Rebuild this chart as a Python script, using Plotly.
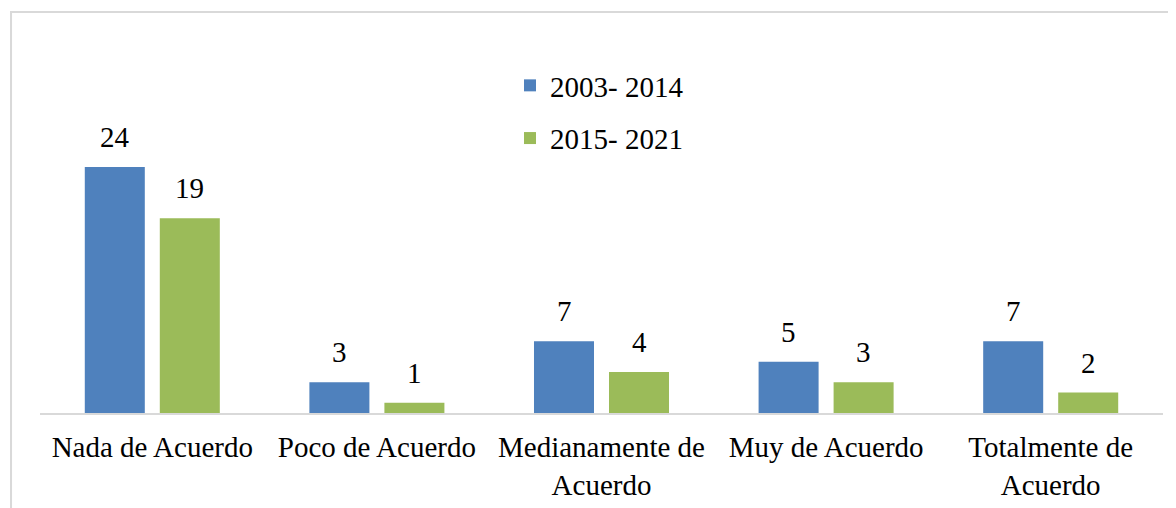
import plotly.graph_objects as go

categories = ["Nada de Acuerdo", "Poco de Acuerdo", "Medianamente de<br>Acuerdo",
              "Muy de Acuerdo", "Totalmente de<br>Acuerdo"]
series_names = ["2003- 2014", "2015- 2021"]
values_2003_2014 = [24, 3, 7, 5, 7]
values_2015_2021 = [19, 1, 4, 3, 2]
colors = ["#4F81BD", "#9BBB59"]

FONT = "Liberation Serif"

fig = go.Figure()
for name, vals, col in zip(series_names, [values_2003_2014, values_2015_2021], colors):
    fig.add_trace(go.Bar(x=categories, y=vals, name=name, marker_color=col,
                         marker_line_width=0, legendgroup=name))

# data labels
for vals, shift in [(values_2003_2014, -37.5), (values_2015_2021, 37.5)]:
    for c, v in zip(categories, vals):
        fig.add_annotation(x=c, y=v, text=str(v), showarrow=False, xshift=shift,
                           yanchor="bottom", yshift=12,
                           font=dict(family=FONT, size=29, color="#000000"))

# outer chart border (cropped at right/bottom)
fig.add_shape(type="rect", xref="paper", yref="paper",
              x0=-0.0258, x1=1.3, y0=-0.6, y1=1.136,
              line=dict(color="#D9D9D9", width=2), layer="below")

fig.update_layout(
    width=1168, height=500,
    margin=dict(l=32, r=13, t=52, b=95, autoexpand=False),
    paper_bgcolor="white", plot_bgcolor="white",
    barmode="group", bargap=0.332, bargroupgap=0.2,
    font=dict(family=FONT, size=29, color="#000000"),
    showlegend=True,
    legend=dict(x=0.4185, y=1.0, xanchor="left", yanchor="top",
                tracegroupgap=12, font=dict(family=FONT, size=29),
                bgcolor="rgba(0,0,0,0)"),
    xaxis=dict(showline=True, linecolor="#D9D9D9", linewidth=2, ticks="",
               showgrid=False, ticklabelstandoff=7, automargin=False,
               tickfont=dict(family=FONT, size=29)),
    yaxis=dict(range=[0, 353 / 10.25], visible=False, showgrid=False,
               zeroline=False, automargin=False),
)

fig.write_html("out.html")
